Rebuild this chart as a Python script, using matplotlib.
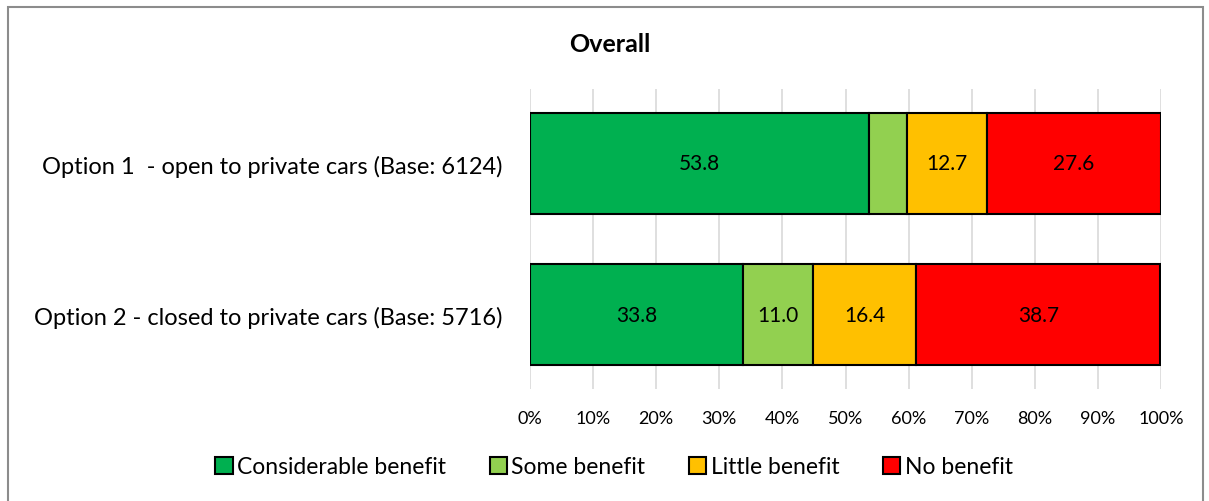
import numpy as np
import matplotlib.pyplot as plt
from matplotlib.patches import Rectangle

# data
options = ['Option 2 - closed to private cars (Base: 5716)',
           'Option 1  - open to private cars (Base: 6124)']
categories = ['Considerable benefit', 'Some benefit', 'Little benefit', 'No benefit']
considerable = [33.8, 53.8]
some = [11.0, 5.9]
little = [16.4, 12.7]
none_ = [38.7, 27.6]
colors = ['#00B050', '#92D050', '#FFC000', '#FF0000']

plt.rcParams['font.family'] = ['Lato', 'DejaVu Sans']

fig = plt.figure(figsize=(12.09, 5.02), dpi=100)
ax = fig.add_axes([530/1209, 1-390/502, 631/1209, 300/502])

y = np.arange(len(options))
left = np.zeros(len(options))
series = [considerable, some, little, none_]
for vals, c, name in zip(series, colors, categories):
    ax.barh(y, vals, left=left, height=0.669, color=c, edgecolor='black',
            linewidth=1.5, label=name, zorder=3)
    for yi, v, l in zip(y, vals, left):
        if v >= 8:
            ax.text(l + v/2, yi, f'{v:.1f}', ha='center', va='center', fontsize=15, zorder=4)
    left = left + np.array(vals)

ax.set_xlim(0, 100)
ax.set_ylim(-0.493, 1.493)
ax.set_xticks(np.arange(0, 101, 10))
ax.set_xticklabels([f'{t}%' for t in range(0, 101, 10)], fontsize=13)
ax.set_yticks(y)
ax.set_yticklabels(options, fontsize=17)
ax.tick_params(axis='x', length=0, pad=15)
ax.tick_params(axis='y', length=0, pad=20)
ax.grid(axis='x', color='#d9d9d9', linewidth=1.2, zorder=0)
for s in ax.spines.values():
    s.set_visible(False)

fig.text(610/1209, 1-45/502, 'Overall', ha='center', va='center', fontsize=18, fontweight='bold')

fig.legend(loc='center', bbox_to_anchor=(614/1209, 1-468/502), ncol=4, frameon=False,
           fontsize=16.5, handlelength=0.75, handleheight=0.75, handletextpad=0.2, columnspacing=1.9)

fig.patches.append(Rectangle((8/1209, -0.05), 1195/1209, 1.05-8/502, transform=fig.transFigure,
                             fill=False, edgecolor='#8c8c8c', linewidth=1.5))

fig.savefig('out.png', dpi=100)
